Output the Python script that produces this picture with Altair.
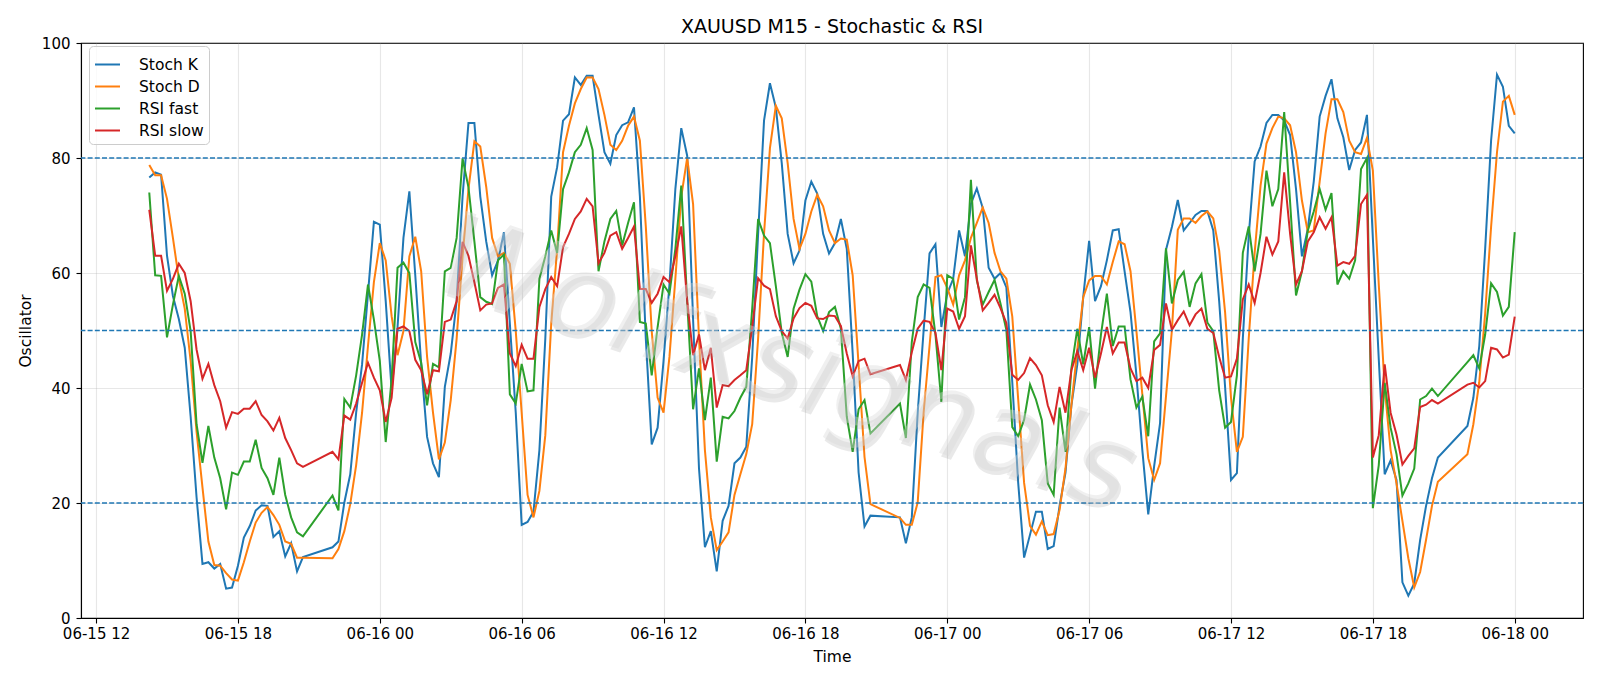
import altair as alt
import pandas as pd

# ---------------- data ----------------
# sessions of 15-minute bars (daily break between them)
SESSIONS = [
    ("2025-06-15 14:15", "2025-06-15 20:45"),
    ("2025-06-15 22:00", "2025-06-16 20:45"),
    ("2025-06-16 22:00", "2025-06-17 20:45"),
    ("2025-06-17 22:00", "2025-06-18 00:00"),
]

stoch_k = [
    # 06-15 14:15 - 20:45
    76.6, 77.5, 77.1, 63, 56, 52, 47, 35, 21, 9.4, 9.7, 8.6, 9.4, 5.1, 5.3, 9.1, 14, 16, 18.7, 19.6,
    19.5, 14.1, 15.1, 10.7, 13, 8.1, 10.6,
    # 06-15 22:00 - 06-16 20:45
    12.3, 13.3, 20.1, 25, 35.7, 44.1, 56.4, 68.9, 68.4, 55.1, 39.6, 50.6, 66.1, 74.2, 59.6, 44.1,
    31.5, 26.9, 24.5, 40.2, 46, 55.1, 73.3, 86.1, 86.1, 73.3, 65.5,
    59.6, 62.2, 67.1, 51.2, 35.7, 16.2, 16.7, 18.5, 29.2, 48.6, 73.3, 78.4, 86.5, 87.6, 94, 92.7,
    94.3, 94.3, 87.5, 81, 79, 84, 85.7, 86.2, 88.8, 73.3, 48.6, 30.2, 33.1, 44.7,
    58, 74.6, 85.2, 80.4, 51.9, 26, 12.3, 15.1, 8.1, 16.9, 19.5, 26.9, 27.9, 29.8, 45.4, 66.8,
    86.5, 93, 88.8, 79.1, 66.8, 61.7, 63.9, 72.6, 75.9, 73.8, 66.8, 63.4, 65.2, 69.4,
    64.2, 46, 25.3, 15.9, 17.8,
    # 06-16 22:00 - 06-17 20:45
    17.5, 13, 17.5, 35.7, 50, 63.4, 65, 50.6, 56.4, 59, 67.4, 62.9, 72, 74.7, 71.3, 60.9, 59, 60, 57.5,
    41, 23.5, 10.5, 14.5, 18.5, 18.5, 12, 12.5, 19.5, 25.3, 37, 44.1, 55.8, 65.6, 55.1, 57.7,
    62.2, 67.4, 67.6, 60.3, 53.2, 42.2, 29.2, 18, 26.4, 33.9, 64, 68, 72.7, 67.4,
    68.7, 70.1, 70.8, 70.8, 67.4, 55.1, 40.2, 24, 25.2, 48.6, 66.5, 79.4, 82, 86.1, 87.5, 87.5,
    86.5, 84, 74.6, 62.9, 67.7, 75.9, 87.2, 90.8, 93.7, 86.9, 83.6, 77.9, 81.4, 82.7,
    87.5, 66, 45, 25, 27.4, 24, 6.2, 3.9, 6, 13.6, 19.5, 24.3, 27.9,
    # 06-17 22:00 - 06-18 00:00
    33.4, 38.3, 47.3, 64.2, 83, 94.5, 92.4, 85.6, 84.3,
]

stoch_d = [
    78.8, 77, 77, 72.9, 66.1, 59, 53.8, 44.7, 32.4, 22.7, 13.3, 9.2, 9.1, 7.8, 6.7, 6.5, 9.7, 13.3,
    16.6, 18.3, 19.3, 17.9, 16.2, 13.3, 12.9, 10.5, 10.5,
    10.4, 12, 15.1, 19.8, 26.6, 35.7, 47.3, 58.4, 65.2, 62.2, 52.5, 45.7, 49.9, 62.9, 66.3, 60.3,
    45.4, 35.7, 27.6, 30.5, 37.9, 48.6, 62.9, 74.6, 82.9, 82, 75,
    66.1, 62.9, 63.5, 61.6, 49.9, 35.7, 21.4, 17.5, 22.1, 31.8, 51.2, 64.2, 81, 85.6, 89.5, 92,
    94, 94, 92, 87.5, 82.3, 81.4, 83, 85.6, 87.2, 83, 68.1, 49.9, 38.3, 35.7,
    45.4, 59, 73.3, 80, 72, 48.6, 29.2, 17.5, 11.8, 13.3, 14.9, 21.4, 25, 28.5, 33.7, 48.6,
    66.8, 81.7, 89.1, 86.9, 79.1, 69.4, 64.2, 66.8, 70.7, 73.6, 71.6, 67.4, 65.2, 66,
    65.8, 59.6, 44, 28, 19.8,
    17.4, 16.2, 16.2, 20.1, 35.7, 47.3, 59.3, 59.6, 57.4, 54.5, 59.6, 62.2, 66.1, 68.7, 71.4, 68.7,
    63.5, 60.3, 59,
    52.4, 38, 23.5, 16, 14.5, 16.8, 14.4, 14.6, 18.8, 26, 37, 46.7, 55.8, 58.7, 59.5, 59.5,
    58, 61.9, 65.5, 65, 60.3, 49.9, 38.9, 27.8, 24, 26.9, 38.5, 50, 67.5, 69.5,
    69.5, 68.7, 69.9, 70.7, 69.5, 63.9, 53.2, 38.3, 28.9, 31.5, 48.6, 63.5, 75.2, 82.5, 85.2, 87.2,
    86.9, 85.7, 81, 72.6, 67.1, 67.4, 75.9, 84.3, 90.2, 90.2, 88, 83, 81, 80.7,
    83.5, 77.8, 58, 40, 29.2, 23.4, 16.9, 10.4, 5.3, 8, 13.6, 19.5, 23.7,
    28.5, 33.7, 41, 53, 68, 81, 89.8, 90.8, 87.5,
]

rsi_fast = [
    74, 59.6, 59.5, 48.8, 54.5, 59.5, 56.4, 49.9, 33.7, 27, 33.4, 27.9, 24.3, 18.9, 25.3, 24.9,
    27.2, 27.2, 31, 26.1, 24.3, 21.4, 27.9, 21.4, 17.5, 14.9, 14.2,
    21.3, 18.7, 38.1, 36.6, 42.2, 49.3, 58, 51.9, 44.7, 30.6, 41.5, 60.9, 61.8, 60, 48, 44.4,
    37, 44.2, 43.6, 60.3, 60.9, 66.1, 79.9, 74.9, 65.5, 55.8, 55,
    54.6, 62.2, 63.2, 38.9, 37.3, 44.2, 39.4, 39.6, 59, 62.9, 67.4, 63.5, 74.6, 77.5, 81, 82.3,
    85.2, 81.4, 60.3, 65.5, 69.4, 70.8, 64.8, 68.7, 72.3, 51.5, 51.2, 42.2, 50.6, 58,
    56.4, 64.2, 75.2, 55.1, 36.3, 43.4, 34.4, 41.8, 27.2, 35, 34.7, 36, 38.3, 40.2, 53.8, 69.4,
    66.5, 65.2, 57.7, 49.6, 45.4, 53.8, 57.1, 59.8, 58.5, 52.5, 49.9, 53.2, 54.1, 50.3,
    35, 28.9, 36.3, 37.9, 32.1,
    37.3, 31.3, 48, 55.8, 58, 57.4, 49.3, 37.6, 59.6, 59, 51.9, 55.8, 76.2, 58.7, 54.5, 56.7,
    58.8, 54.7, 50.1,
    33.2, 31.6, 34.5, 40.6, 38, 34.4, 23.4, 21.4, 36.6, 28.9, 43.4, 50.3, 44.1, 50.6, 39.9, 49.3,
    56.4, 47.3, 50.7, 50.7, 41.5, 36.6, 38.5, 31.6, 48.1, 49.5, 64.3, 54.7, 58.8, 60.2,
    54.1, 58.2, 59.8, 51.4, 49.9, 39.6, 33.1, 34.1, 42.2, 63.5, 68.1, 60.3, 66.8, 77.8, 71.6, 74.6,
    88, 72.3, 56.1, 60.3, 67.4, 70.7, 74.6, 71, 73.9, 58, 60.3, 59, 62.2, 78.1,
    80, 19.1, 26.6, 40.9, 33.1, 28.5, 21.3, 23.4, 26, 38, 38.6, 39.9, 38.6,
    44.5, 45.7, 43.4, 49.3, 58.2, 56.7, 52.6, 54.1, 67.1,
]

rsi_slow = [
    71, 63, 63, 56.9, 59, 61.6, 60, 55.1, 46.7, 41.6, 44.2, 40.5, 37.7, 33.1, 35.8, 35.5, 36.4,
    36.4, 37.7, 35.3, 34.2, 32.6, 34.8, 31.3, 29.2, 26.9, 26.3,
    28.9, 27.6, 35.2, 34.5, 37.3, 40.9, 44.4, 41.8, 39.6, 34.1, 38.3, 50.3, 50.7, 49.9, 44.9, 43.1,
    38.9, 43.1, 42.9, 51.5, 51.9, 55.1, 65.4, 63, 58.4, 53.5, 54.5,
    54.7, 57.4, 58, 46, 43.8, 47.5, 45.1, 45.1, 54.1, 57.2, 59.3, 57.7, 64.5, 66.8, 69.4, 70.7,
    72.9, 71.6, 61.7, 63.5, 66.5, 67.1, 64.2, 66.1, 68.1, 57.2, 57.2, 54.8, 56.4, 59.3,
    58.4, 62.9, 68.1, 55.1, 45.7, 49.3, 43.1, 47, 36.6, 40.5, 40.3, 41.4, 42.2, 43.1, 50.6, 59.1,
    57.8, 57.2, 52.5, 49.9, 48.6, 52.1, 53.9, 54.8, 54.3, 52.1, 52, 52.6, 52.5, 50.8,
    46, 42, 44.7, 45.1, 42.4,
    44, 41.4, 46.2, 50.3, 51.7, 51.5, 49.6, 43.1, 53.8, 53.3, 50.3, 52.5, 64.8, 59, 53.5, 54.8,
    56.2, 53.9, 51.3,
    42.3, 41.4, 42.6, 45.2, 44, 42.2, 37, 34.1, 40.2, 35.7, 43.1, 46.4, 43.1, 47, 41.8, 46,
    50.6, 46, 47.9, 47.9, 43.4, 41.2, 41.8, 40, 46.6, 47.5, 54.7, 50.1, 51.8, 53.3,
    50.9, 52.8, 53.8, 50.3, 49.6, 45.4, 41.8, 42, 45.1, 55.4, 58, 54.8, 60, 66.3, 63.2, 65.5,
    77.5, 66.8, 58, 60.3, 65.5, 67.1, 69.7, 67.7, 69.7, 61.3, 61.9, 61.6, 63, 72,
    73.6, 27.9, 31.8, 44.1, 35.7, 31.9, 26.7, 28.2, 29.5, 36.7, 37.1, 37.9, 37.3,
    40.6, 40.9, 40.1, 41.2, 47, 46.7, 45.3, 45.8, 52.4,
]

SERIES = ["Stoch K", "Stoch D", "RSI fast", "RSI slow"]
COLORS = ["#1f77b4", "#ff7f0e", "#2ca02c", "#d62728"]
LEVELS = [20, 50, 80]
Y_TICKS = [0, 20, 40, 60, 80, 100]
WATERMARK = "Wolfxsignals"

# ---------------- build table ----------------
times = [t for s, e in SESSIONS for t in pd.date_range(s, e, freq="15min")]
values = [stoch_k, stoch_d, rsi_fast, rsi_slow]
for v in values:
    assert len(v) == len(times), (len(v), len(times))

rows = []
for name, vals in zip(SERIES, values):
    for t, v in zip(times, vals):
        rows.append({"time": t.strftime("%Y-%m-%dT%H:%M:%S"), "value": v, "series": name})
df = pd.DataFrame(rows)

span = times[-1] - times[0]
x_lo = times[0] - span * 0.05
x_hi = times[-1] + span * 0.05


def dt(ts):
    return alt.DateTime(year=ts.year, month=ts.month, date=ts.day,
                        hours=ts.hour, minutes=ts.minute, seconds=ts.second)


tick_times = [dt(t) for t in pd.date_range("2025-06-15 12:00", "2025-06-18 00:00", freq="6h")]

FONT = "DejaVu Sans"

x_enc = alt.X("time:T", scale=alt.Scale(domain=[dt(x_lo), dt(x_hi)]),
              axis=alt.Axis(values=tick_times, format="%m-%d %H", title="Time",
                            labelPadding=3, titlePadding=8, labelFlush=False))
y_enc = alt.Y("value:Q", scale=alt.Scale(domain=[0, 100], nice=False, zero=False),
              axis=alt.Axis(values=Y_TICKS, title="Oscillator", labelPadding=6, titlePadding=8))

lines = alt.Chart(df).mark_line(strokeWidth=2, clip=True).encode(
    x=x_enc,
    y=y_enc,
    color=alt.Color("series:N", sort=SERIES,
                    scale=alt.Scale(domain=SERIES, range=COLORS),
                    legend=alt.Legend(title=None, orient="none", legendX=8, legendY=3,
                                      symbolType="stroke", symbolSize=625, symbolStrokeWidth=2,
                                      labelFontSize=15.5, labelFont=FONT, labelColor="black",
                                      labelOffset=18, rowPadding=0, padding=5,
                                      fillColor="rgba(255,255,255,0.8)", strokeColor="#cccccc",
                                      cornerRadius=4)),
)

rules = alt.Chart(pd.DataFrame({"level": LEVELS})).mark_rule(
    color="#1f77b4", strokeWidth=1.4, strokeDash=[5, 2.2]
).encode(y=alt.Y("level:Q"))

wm_df = pd.DataFrame({"text": [WATERMARK]})
wm_shadow = alt.Chart(wm_df).mark_text(
    font=FONT, fontStyle="italic", fontSize=115, angle=18, align="center", baseline="middle",
    color="#707070", opacity=0.15, dx=3, dy=3
).encode(text="text:N", x=alt.value(704), y=alt.value(323))
wm_main = alt.Chart(wm_df).mark_text(
    font=FONT, fontStyle="italic", fontSize=115, angle=18, align="center", baseline="middle",
    color="#dadada", opacity=0.4
).encode(text="text:N", x=alt.value(704), y=alt.value(323))

chart = alt.layer(lines, rules, wm_shadow, wm_main).properties(
    width=1502, height=575,
    padding={"left": 81, "top": 43, "right": 17, "bottom": 68},
    autosize=alt.AutoSizeParams(type="none"),
    background="white",
    title=alt.TitleParams("XAUUSD M15 - Stochastic & RSI", fontSize=19, fontWeight="normal",
                          font=FONT, color="black", offset=9, frame="group", dy=10),
).configure_view(stroke="black", strokeWidth=1.1).configure_axis(
    labelFont=FONT, labelFontSize=15, labelColor="black",
    titleFont=FONT, titleFontSize=15.5, titleFontWeight="normal", titleColor="black",
    domainColor="black", domainWidth=1.1, tickColor="black", tickWidth=1.1, tickSize=5,
    gridColor="#b0b0b0", gridOpacity=0.3, gridWidth=1.1,
)

chart.save("out.html", embed_options={"renderer": "svg", "actions": False})
